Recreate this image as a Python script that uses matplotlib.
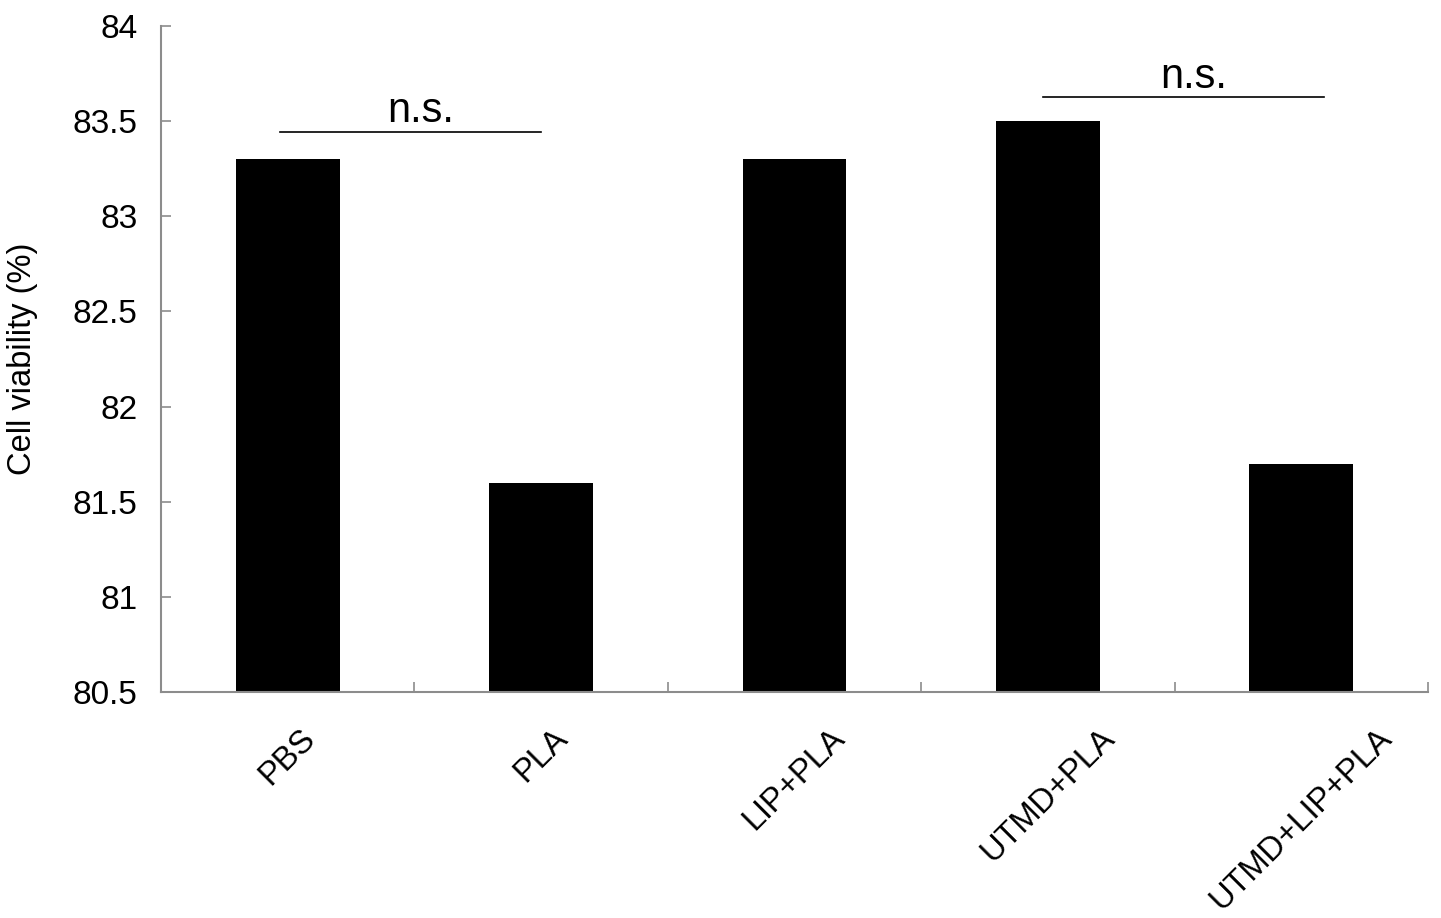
import matplotlib as mpl
mpl.use("Agg")
import matplotlib.pyplot as plt

plt.rcParams['font.family'] = ['Liberation Sans', 'DejaVu Sans']

groups = ['PBS', 'PLA', 'LIP+PLA', 'UTMD+PLA', 'UTMD+LIP+PLA']
viability = [83.3, 81.6, 83.3, 83.5, 81.7]
yticks = [80.5, 81, 81.5, 82, 82.5, 83, 83.5, 84]
ytick_labels = ['80.5', '81', '81.5', '82', '82.5', '83', '83.5', '84']

# significance brackets: (x start, x end, y level)
ns_pairs = [(-0.03, 1.0, 83.445), (2.98, 4.09, 83.625)]

fig = plt.figure(figsize=(14.41, 9.18), dpi=100)
ax = fig.add_axes([0.1117, 0.2462, 0.8793, 0.7255])

x = list(range(len(groups)))
ax.bar(x, viability, width=0.41, color='black', zorder=2)

ax.set_xlim(-0.5, len(groups) - 0.5)
ax.set_ylim(80.5, 84)
ax.set_yticks(yticks)
ax.set_yticklabels(ytick_labels, fontsize=24)

# category ticks sit between groups, labels at group centres
ax.set_xticks([i - 0.5 for i in range(len(groups) + 1)])
ax.set_xticklabels([])
ax.set_xticks(x, minor=True)
ax.set_xticklabels(groups, minor=True, fontsize=23.5, rotation=45,
                   ha='center', va='top')
ax.tick_params(axis='x', which='minor', length=0, pad=22)
ax.tick_params(axis='x', which='major', direction='in', length=7,
               color='#8c8c8c', width=1.2)
ax.tick_params(axis='y', direction='in', length=7, color='#8c8c8c',
               width=1.2, pad=17)

for side in ['top', 'right']:
    ax.spines[side].set_visible(False)
for side in ['left', 'bottom']:
    ax.spines[side].set_color('#8c8c8c')
    ax.spines[side].set_linewidth(1.5)

ax.set_ylabel('Cell viability (%)', fontsize=23.5)
ax.yaxis.set_label_coords(-0.097, 0.5)

for x0, x1, y in ns_pairs:
    ax.plot([x0, x1], [y, y], color='black', lw=1.2, zorder=3, clip_on=False)
    ax.text((x0 + x1) / 2 + 0.04, y + 0.05, 'n.s.', fontsize=30,
            ha='center', va='baseline')

fig.savefig('out.png', dpi=100)
